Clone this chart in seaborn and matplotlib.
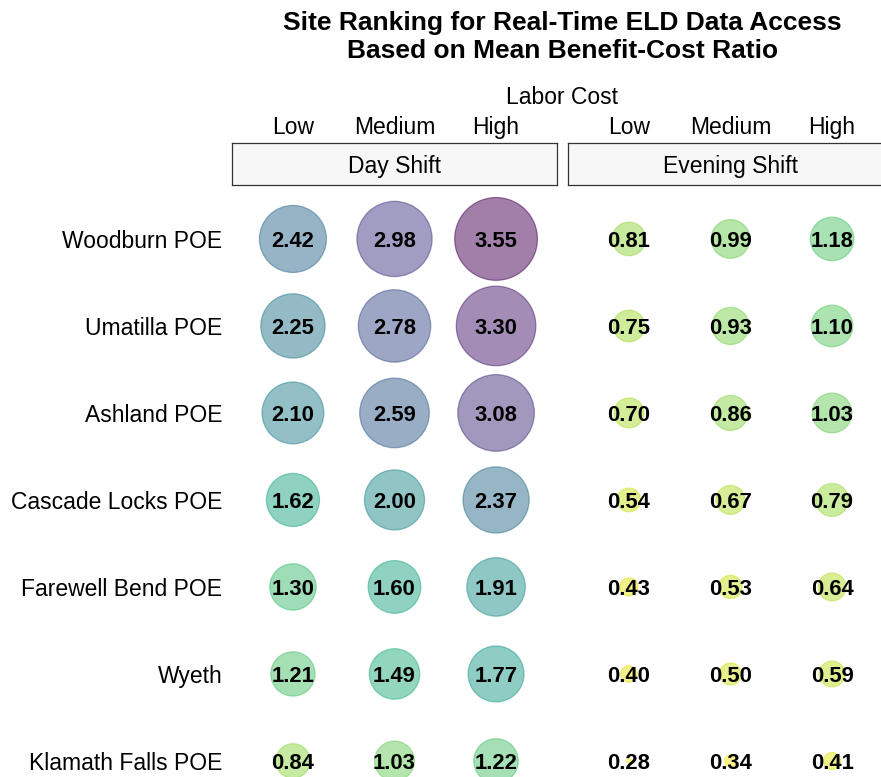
import matplotlib
matplotlib.use("Agg")
import matplotlib.pyplot as plt
import matplotlib.transforms as mtransforms
import numpy as np
import pandas as pd
import seaborn as sns

# ---- data ---------------------------------------------------------------
sites = ["Woodburn POE", "Umatilla POE", "Ashland POE", "Cascade Locks POE",
         "Farewell Bend POE", "Wyeth", "Klamath Falls POE"]
labor_levels = ["Low", "Medium", "High"]
shifts = ["Day Shift", "Evening Shift"]
title_lines = ["Site Ranking for Real-Time ELD Data Access",
               "Based on Mean Benefit-Cost Ratio"]

day_low = [2.42, 2.25, 2.10, 1.62, 1.30, 1.21, 0.84]
day_medium = [2.98, 2.78, 2.59, 2.00, 1.60, 1.49, 1.03]
day_high = [3.55, 3.30, 3.08, 2.37, 1.91, 1.77, 1.22]
evening_low = [0.81, 0.75, 0.70, 0.54, 0.43, 0.40, 0.28]
evening_medium = [0.99, 0.93, 0.86, 0.67, 0.53, 0.50, 0.34]
evening_high = [1.18, 1.10, 1.03, 0.79, 0.64, 0.59, 0.41]

series = {
    "Day Shift": [day_low, day_medium, day_high],
    "Evening Shift": [evening_low, evening_medium, evening_high],
}

rows = []
for shift, cols in series.items():
    for level, vals in zip(labor_levels, cols):
        for site, v in zip(sites, vals):
            rows.append({"shift": shift, "cost": level, "site": site, "bcr": v})
df = pd.DataFrame(rows)
df["cost"] = pd.Categorical(df["cost"], categories=labor_levels, ordered=True)
df["site"] = pd.Categorical(df["site"], categories=sites, ordered=True)

vmin, vmax = df["bcr"].min(), df["bcr"].max()

# ---- figure ------------------------------------------------------------
sns.set_theme(style="white")
plt.rcParams["font.family"] = ["Liberation Sans", "DejaVu Sans"]

W, H = 881, 777
fig = plt.figure(figsize=(W / 100, H / 100), dpi=100)
fig.patch.set_facecolor("white")


def px_box(x0, y0, x1, y1):
    """Convert a pixel box (top-left origin) into figure-fraction coords."""
    return [x0 / W, 1 - y1 / H, (x1 - x0) / W, (y1 - y0) / H]


unit = 87.0          # pixels per category step
pad = 0.62           # discrete-axis expansion on each side
panel_top = 185
panel_bottom = panel_top + (len(sites) - 1 + 2 * pad) * unit
panel_x = [(232, 557), (568, 893)]
label_fs = 16.5

for i, shift in enumerate(shifts):
    x0, x1 = panel_x[i]
    ax = fig.add_axes(px_box(x0, panel_top, x1, panel_bottom))
    sub = df[df["shift"] == shift]
    sns.scatterplot(
        data=sub, x="cost", y="site", hue="bcr", size="bcr",
        palette="viridis_r", hue_norm=(vmin, vmax),
        sizes=(10, 3550), size_norm=(vmin, vmax),
        alpha=0.5, edgecolor="face", linewidth=0.9,
        legend=False, ax=ax,
    )
    # value labels, nudged slightly down so the digits sit centred in the bubble
    text_tr = mtransforms.offset_copy(ax.transData, fig=fig, y=-1.5, units="points")
    for _, r in sub.iterrows():
        ax.text(labor_levels.index(r["cost"]), sites.index(r["site"]),
                f"{r['bcr']:.2f}", ha="center", va="center",
                fontsize=15.8, fontweight="bold", color="black",
                transform=text_tr)

    ax.set_xlim(-0.6, len(labor_levels) - 1 + 0.6)
    ax.set_ylim(len(sites) - 1 + pad, -pad)
    ax.set_xlabel("")
    ax.set_ylabel("")
    ax.xaxis.tick_top()
    ax.tick_params(axis="x", length=0, pad=33, labelsize=label_fs, colors="black")
    ax.tick_params(axis="y", length=0, pad=7, labelsize=label_fs, colors="black")
    if i > 0:
        ax.tick_params(axis="y", labelleft=False)
    for s in ax.spines.values():
        s.set_visible(False)
    ax.grid(False)
    ax.set_facecolor("white")

    # facet strip
    sax = fig.add_axes(px_box(x0, 143, x1, 185))
    sax.set_xticks([])
    sax.set_yticks([])
    sax.set_facecolor("#F7F7F7")
    for s in sax.spines.values():
        s.set_visible(True)
        s.set_color("#333333")
        s.set_linewidth(0.9)
    sax.text(0.5, 0.44, shift, transform=sax.transAxes, ha="center",
             va="center", fontsize=label_fs, color="black")

center_x = (232 + 893) / 2 / W
fig.text(center_x, 1 - 97 / H, "Labor Cost", ha="center", va="center",
         fontsize=label_fs, color="black")
for line, y_px in zip(title_lines, (23, 51)):
    fig.text(center_x, 1 - y_px / H, line, ha="center", va="center",
             fontsize=19, fontweight="bold", color="black")

fig.savefig("out.png", dpi=100)
